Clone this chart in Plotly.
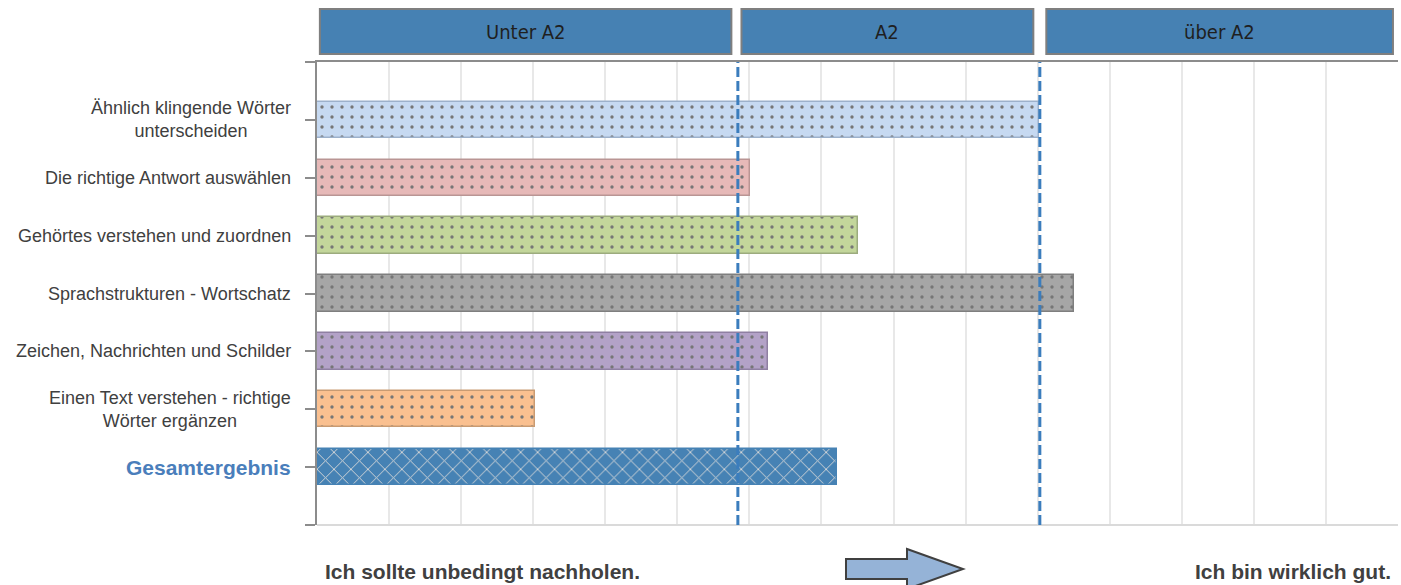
import plotly.graph_objects as go

# ---------------- data ----------------
categories = [
    "Ähnlich klingende Wörter<br>unterscheiden",
    "Die richtige Antwort auswählen",
    "Gehörtes verstehen und zuordnen",
    "Sprachstrukturen - Wortschatz",
    "Zeichen, Nachrichten und Schilder",
    "Einen Text verstehen - richtige<br>Wörter ergänzen",
    "Gesamtergebnis",
]
scores = [10.02, 6.01, 7.50, 10.50, 6.26, 3.02, 7.22]
bar_colors = ["#C6D9F1", "#E6B9B8", "#C3D69B", "#A6A6A6", "#B3A2C7", "#FAC090", "#4682B4"]
border_colors = ["#9DB1CB", "#B99594", "#9CAB7E", "#7F7F7F", "#8F80A2", "#C99B73", "#4682B4"]
pattern_shapes = [".", ".", ".", ".", ".", ".", "x"]
pattern_fg = ["#767676"] * 6 + ["#D9D9D9"]

level_names = ["Unter A2", "A2", "über A2"]
level_bounds = [(0.04, 5.75), (5.89, 9.94), (10.12, 14.93)]
thresholds = [5.84, 10.03]
x_max = 15
footer_left = "Ich sollte unbedingt nachholen."
footer_right = "Ich bin wirklich gut."

# ---------------- layout helpers ----------------
W, H = 1401, 585
L, R, T, B = 317, 3, 62, 60
PW, PH = W - L - R, H - T - B


def px(xp):
    return (xp - L) / PW


def py(yp):
    return (H - B - yp) / PH


n = len(categories)
ypos = [n - i for i in range(n)]  # top category at n, bottom at 1

fig = go.Figure()
for i in range(n):
    is_total = pattern_shapes[i] == "x"
    fig.add_trace(go.Bar(
        x=[scores[i]], y=[ypos[i]], base=0, orientation="h", width=0.63,
        marker=dict(
            color=bar_colors[i],
            line=dict(color=border_colors[i], width=1.5),
            pattern=dict(shape=pattern_shapes[i], fgcolor=pattern_fg[i], bgcolor=bar_colors[i],
                         size=12 if is_total else 10, solidity=0.15 if is_total else 0.09,
                         fillmode="replace"),
        ),
        hoverinfo="skip", showlegend=False,
    ))

shapes = []
annotations = []

# threshold dashed lines
for t in thresholds:
    shapes.append(dict(type="line", xref="x", yref="y", x0=t, x1=t, y0=0, y1=n + 1,
                       line=dict(color="#3B7DBD", width=3, dash="10px,4px"), layer="above"))

# header boxes
for name, (a, b) in zip(level_names, level_bounds):
    shapes.append(dict(type="rect", xref="x", yref="paper", x0=a, x1=b,
                       y0=py(54), y1=py(9), fillcolor="#4681B3",
                       line=dict(color="#7F7F7F", width=2), layer="above"))
    annotations.append(dict(xref="x", yref="paper", x=(a + b) / 2, y=py(32),
                            text=name, showarrow=False, xanchor="center", yanchor="middle",
                            font=dict(family="Liberation Sans Narrow, DejaVu Sans Condensed, Arial Narrow, sans-serif",
                                      size=20, color="#1F1F1F")))

# category labels
for cat, yv in zip(categories, ypos):
    bold = cat == "Gesamtergebnis"
    annotations.append(dict(
        xref="paper", yref="y", x=0, y=yv, xshift=-24, text=f"<b>{cat}</b>" if bold else cat,
        showarrow=False, xanchor="right", yanchor="middle", align="center",
        font=dict(family="Liberation Sans, Arial, sans-serif", size=21 if bold else 18,
                  color="#4A7EBB" if bold else "#404040")))

# footer texts
annotations.append(dict(xref="paper", yref="paper", x=px(323), y=py(571), text=f"<b>{footer_left}</b>",
                        showarrow=False, xanchor="left", yanchor="middle",
                        font=dict(family="Liberation Sans, Arial, sans-serif", size=21, color="#404040")))
annotations.append(dict(xref="paper", yref="paper", x=px(1393), y=py(571), text=f"<b>{footer_right}</b>",
                        showarrow=False, xanchor="right", yanchor="middle",
                        font=dict(family="Liberation Sans, Arial, sans-serif", size=21, color="#404040")))

# arrow
pts = [(846, 559), (907, 559), (907, 549), (963, 569), (907, 589), (907, 579), (846, 579)]
path = "M " + " L ".join(f"{px(a):.5f},{py(b):.5f}" for a, b in pts) + " Z"
shapes.append(dict(type="path", xref="paper", yref="paper", path=path,
                   fillcolor="#95B3D7", line=dict(color="#404040", width=2)))

fig.update_layout(
    width=W, height=H,
    margin=dict(l=L, r=R, t=T, b=B),
    paper_bgcolor="white", plot_bgcolor="white",
    shapes=shapes, annotations=annotations,
    xaxis=dict(range=[0, x_max], dtick=1, tick0=0, showgrid=True, gridcolor="#E8E8E8", gridwidth=2,
               zeroline=False, showticklabels=False, ticks="", side="top",
               showline=True, linecolor="#8C8C8C", linewidth=2, fixedrange=True),
    yaxis=dict(range=[0, n + 1], tickvals=list(range(0, n + 2)), showticklabels=False,
               ticks="outside", ticklen=10, tickcolor="#8C8C8C", tickwidth=2,
               showgrid=False, zeroline=True, zerolinecolor="#DADADA", zerolinewidth=2,
               showline=True, linecolor="#8C8C8C", linewidth=2, fixedrange=True),
    bargap=0,
)

fig.write_html(
    "out.html",
    config={"displayModeBar": False},
    post_script="document.body.style.margin='0';document.body.style.overflow='hidden';",
)
